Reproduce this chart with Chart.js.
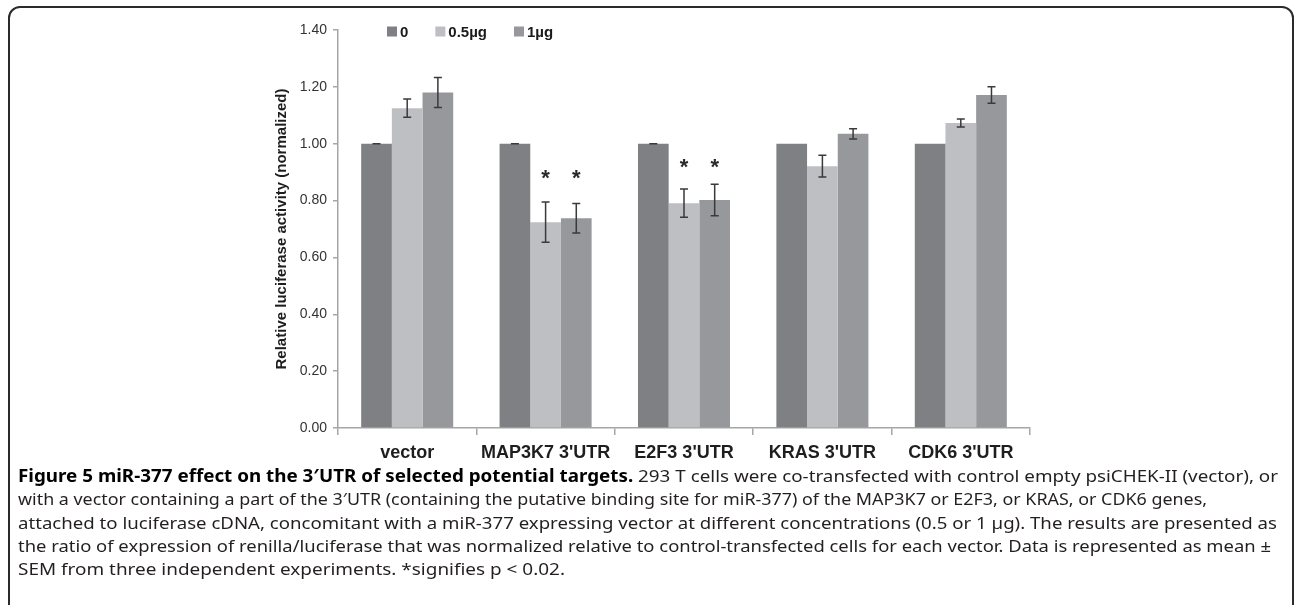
<!DOCTYPE html>
<html><head><meta charset="utf-8">
<script src="https://cdn.jsdelivr.net/npm/chart.js@4.4.1/dist/chart.umd.min.js"></script>
<style>
html,body{margin:0;padding:0;background:#fff;width:1295px;height:605px;overflow:hidden;position:relative;}
#frame{position:absolute;left:8px;top:6px;width:1286px;height:800px;border:2px solid #2b2b2b;border-radius:12px;box-sizing:border-box;}
#c{position:absolute;left:0;top:0;}
.ln{position:absolute;left:18px;white-space:nowrap;transform-origin:0 0;font-family:'Noto Sans',sans-serif;font-size:17px;line-height:23px;color:#231f20;}
.ln b{color:#000;}
</style></head>
<body>
<div id="frame"></div>
<canvas id="c" width="1295" height="605"></canvas>
<div class="ln" data-end="1278"><b>Figure 5 miR-377 effect on the 3′UTR of selected potential targets.</b> 293 T cells were co-transfected with control empty psiCHEK-II (vector), or</div>
<div class="ln" data-end="1207">with a vector containing a part of the 3′UTR (containing the putative binding site for miR-377) of the MAP3K7 or E2F3, or KRAS, or CDK6 genes,</div>
<div class="ln" data-end="1277">attached to luciferase cDNA, concomitant with a miR-377 expressing vector at different concentrations (0.5 or 1 µg). The results are presented as</div>
<div class="ln" data-end="1271">the ratio of expression of renilla/luciferase that was normalized relative to control-transfected cells for each vector. Data is represented as mean ±</div>
<div class="ln" data-end="565">SEM from three independent experiments. *signifies p &lt; 0.02.</div>
<script>
const categories = ['vector', "MAP3K7 3'UTR", "E2F3 3'UTR", "KRAS 3'UTR", "CDK6 3'UTR"];
const seriesLabels = ['0', '0.5µg', '1µg'];
const values0  = [1.00, 1.00, 1.00, 1.00, 1.00];
const values05 = [1.125, 0.724, 0.791, 0.921, 1.073];
const values1  = [1.180, 0.738, 0.802, 1.035, 1.171];
const err0  = [0.000, 0.000, 0.000, null, null];
const err05 = [0.032, 0.071, 0.050, 0.038, 0.014];
const err1  = [0.053, 0.052, 0.055, 0.018, 0.029];
const star0  = [null, null, null, null, null];
const star05 = [null, 0.892, 0.931, null, null];
const star1  = [null, 0.892, 0.931, null, null];
const yTicks = [0, 0.2, 0.4, 0.6, 0.8, 1.0, 1.2, 1.4];

const colors = ['#7f8084', '#bebfc3', '#97989c'];
const errs = [err0, err05, err1];
const stars = [star0, star05, star1];

// caption line placement
const baseTop = 464;
document.querySelectorAll('.ln').forEach((el, i) => {
  el.style.top = (baseTop + i * 23.3) + 'px';
});
function fitCaption(){
  document.querySelectorAll('.ln').forEach(el => {
    el.style.transform = 'none';
    const w = el.getBoundingClientRect().width;
    const target = +el.dataset.end - 18;
    el.style.transform = 'scaleX(' + (target / w) + ')';
  });
}
fitCaption();
if (document.fonts && document.fonts.ready) document.fonts.ready.then(fitCaption);

const errPlugin = {
  id: 'errs',
  afterDatasetsDraw(chart) {
    const ctx = chart.ctx, y = chart.scales.y;
    chart.data.datasets.forEach((ds, i) => {
      const meta = chart.getDatasetMeta(i);
      meta.data.forEach((bar, j) => {
        const e = errs[i][j];
        const v = ds.data[j];
        if (e !== null && e !== undefined) {
          const y1 = y.getPixelForValue(v + e), y2 = y.getPixelForValue(v - e);
          ctx.save();
          ctx.strokeStyle = '#3a3a3a';
          ctx.lineWidth = 1.5;
          ctx.beginPath();
          ctx.moveTo(bar.x, y1); ctx.lineTo(bar.x, y2);
          ctx.moveTo(bar.x - 4, y1); ctx.lineTo(bar.x + 4, y1);
          ctx.moveTo(bar.x - 4, y2); ctx.lineTo(bar.x + 4, y2);
          ctx.stroke();
          ctx.restore();
        }
        const s = stars[i][j];
        if (s !== null && s !== undefined) {
          ctx.save();
          ctx.font = 'bold 22px "Liberation Sans"';
          ctx.fillStyle = '#2a2a2a';
          ctx.textAlign = 'center';
          ctx.textBaseline = 'alphabetic';
          const m = ctx.measureText('*');
          const yc = y.getPixelForValue(s);
          ctx.fillText('*', bar.x, yc + m.actualBoundingBoxAscent - (m.actualBoundingBoxAscent + m.actualBoundingBoxDescent) / 2);
          ctx.restore();
        }
      });
    });
  }
};

const legendPlugin = {
  id: 'lgd',
  afterDraw(chart) {
    const ctx = chart.ctx;
    let x = 387;
    const yc = 31.5;
    ctx.save();
    ctx.font = 'bold 15px "Liberation Sans"';
    ctx.textBaseline = 'middle';
    chart.data.datasets.forEach(ds => {
      ctx.fillStyle = ds.backgroundColor;
      ctx.fillRect(x, yc - 5, 10, 10);
      ctx.fillStyle = '#1a1a1a';
      ctx.fillText(ds.label, x + 13, yc + 1);
      x += 13 + ctx.measureText(ds.label).width + 27;
    });
    ctx.restore();
  }
};

new Chart(document.getElementById('c'), {
  type: 'bar',
  data: {
    labels: categories,
    datasets: [
      { label: seriesLabels[0], data: values0, backgroundColor: colors[0] },
      { label: seriesLabels[1], data: values05, backgroundColor: colors[1] },
      { label: seriesLabels[2], data: values1, backgroundColor: colors[2] }
    ]
  },
  options: {
    responsive: false,
    animation: false,
    devicePixelRatio: 1,
    layout: { padding: { left: 273, right: 265, top: 30, bottom: 137 } },
    plugins: { legend: { display: false }, tooltip: { enabled: false } },
    datasets: { bar: { categoryPercentage: 0.665, barPercentage: 1.0 } },
    scales: {
      x: {
        grid: { offset: true, drawOnChartArea: false, drawTicks: true, tickLength: 7, color: '#a6a6a6', lineWidth: 1.5 },
        border: { color: '#a6a6a6', width: 1.5 },
        ticks: { font: { family: 'Liberation Sans', weight: 'bold', size: 18 }, color: '#1e1e1e', padding: 7, maxRotation: 0, autoSkip: false },
        afterFit: s => { s.height = 40; }
      },
      y: {
        min: 0, max: 1.4,
        afterBuildTicks: s => { s.ticks = yTicks.map(v => ({ value: v })); },
        ticks: { callback: v => Number(v).toFixed(2), font: { family: 'Liberation Sans', size: 14 }, color: '#333', padding: 6 },
        grid: { drawOnChartArea: false, drawTicks: true, tickLength: 5, color: '#a6a6a6', lineWidth: 1.5 },
        border: { color: '#a6a6a6', width: 1.5 },
        title: { display: true, text: 'Relative luciferase activity (normalized)', font: { family: 'Liberation Sans', weight: 'bold', size: 15 }, color: '#1e1e1e', padding: { top: 0, bottom: 0 } },
        afterFit: s => { s.width = 65; }
      }
    }
  },
  plugins: [errPlugin, legendPlugin]
});
</script>
</body></html>
